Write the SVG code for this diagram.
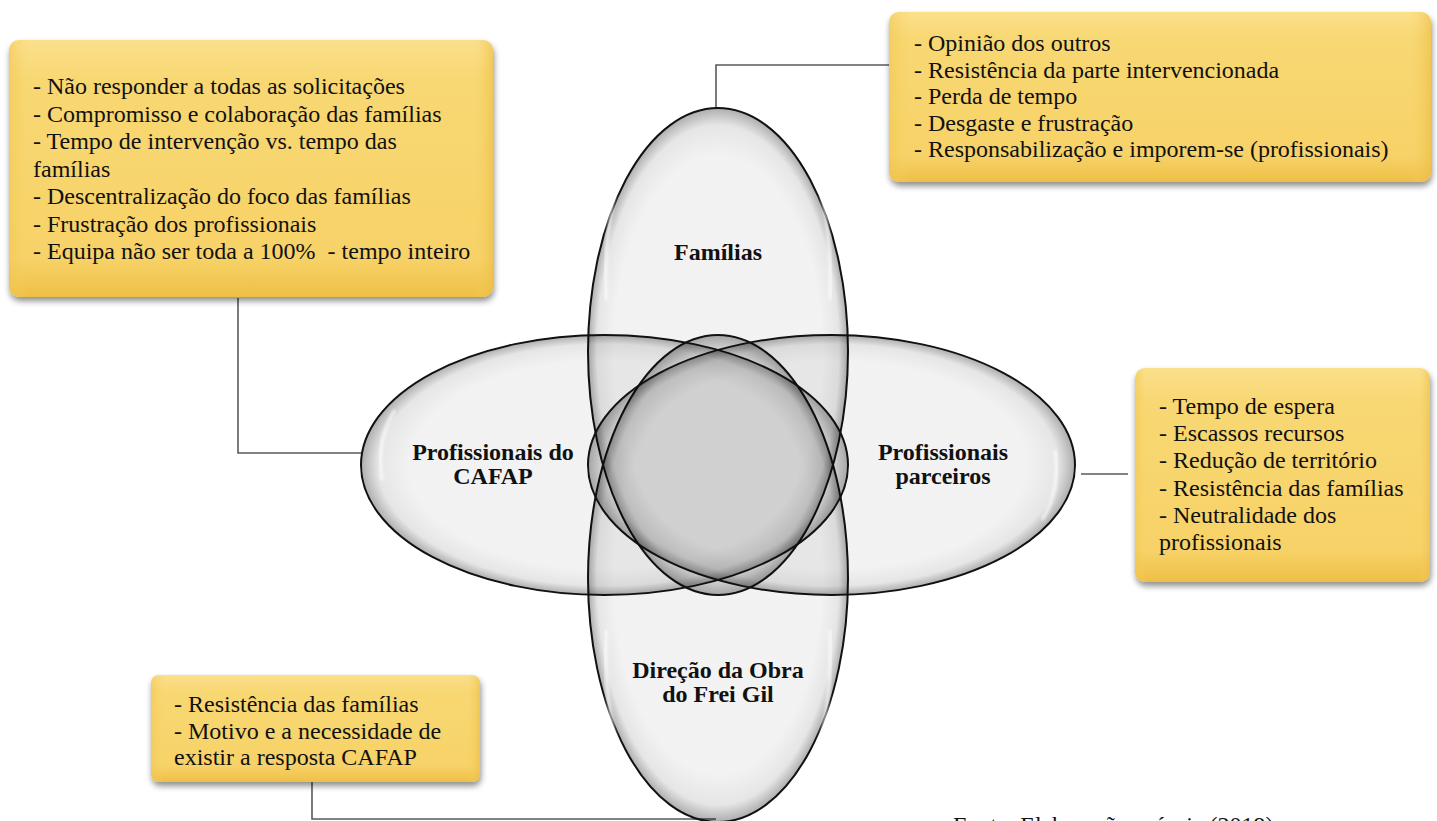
<svg xmlns="http://www.w3.org/2000/svg" width="1437" height="821" viewBox="0 0 1437 821">
<defs>
<radialGradient id="glass" cx="0.5" cy="0.5" r="0.5">
<stop offset="0" stop-color="#000" stop-opacity="0.05"/>
<stop offset="0.8" stop-color="#000" stop-opacity="0.05"/>
<stop offset="0.93" stop-color="#000" stop-opacity="0.1"/>
<stop offset="1" stop-color="#000" stop-opacity="0.32"/>
</radialGradient>
<linearGradient id="gold" x1="0" y1="0" x2="0" y2="1">
<stop offset="0" stop-color="#fbe08c"/>
<stop offset="0.15" stop-color="#f8d873"/>
<stop offset="0.85" stop-color="#f7d268"/>
<stop offset="1" stop-color="#eebf45"/>
</linearGradient>
<linearGradient id="goldside" x1="0" y1="0" x2="1" y2="0">
<stop offset="0" stop-color="#f0c650" stop-opacity="0.6"/>
<stop offset="0.04" stop-color="#f7d46a" stop-opacity="0"/>
<stop offset="0.96" stop-color="#f7d46a" stop-opacity="0"/>
<stop offset="1" stop-color="#e9bb42" stop-opacity="0.6"/>
</linearGradient>
<filter id="shadow" x="-10%" y="-10%" width="120%" height="130%">
<feGaussianBlur in="SourceAlpha" stdDeviation="3"/>
<feOffset dx="1" dy="4" result="b"/>
<feComponentTransfer><feFuncA type="linear" slope="0.45"/></feComponentTransfer>
<feMerge><feMergeNode/><feMergeNode in="SourceGraphic"/></feMerge>
</filter>
<filter id="soft" x="-5%" y="-5%" width="110%" height="110%">
<feGaussianBlur stdDeviation="1.5"/>
</filter>
<style>
.ell{fill:url(#glass);stroke:#111;stroke-width:2}
.hl{fill:none;stroke:#fff;stroke-opacity:0.75;stroke-width:3;filter:url(#soft)}
.box{fill:url(#gold);filter:url(#shadow)}
.boxs{fill:url(#goldside)}
.t{font-family:'Liberation Serif','Times New Roman',serif;font-size:24px;font-weight:normal;fill:#111}
.lb{font-family:'Liberation Serif','Times New Roman',serif;font-size:24px;font-weight:bold;fill:#111;text-anchor:middle}
.con{fill:none;stroke:#5a5a5a;stroke-width:1.6}
</style>
</defs>
<rect width="1437" height="821" fill="#fff"/>

<g id="connectors">
<polyline class="con" points="238,298 238,453 362,453"/>
<polyline class="con" points="716,108 716,65 889,65"/>
<polyline class="con" points="1081,474 1128,474"/>
<polyline class="con" points="312,782 312,819 716,819"/>
</g>

<g id="venn">
<g id="n-familias">
<ellipse class="ell" cx="718" cy="351.5" rx="130" ry="243.5"/>
<path class="hl" d="M606,300 C604,250 610,200 625,160"/>
<path class="hl" d="M830,300 C832,250 826,200 811,160"/>
<text class="lb" x="718" y="260">Famílias</text>
</g>
<g id="n-direcao">
<ellipse class="ell" cx="718" cy="578.5" rx="130" ry="243.5"/>
<path class="hl" d="M606,630 C604,680 610,730 625,770"/>
<path class="hl" d="M830,630 C832,680 826,730 811,770"/>
</g>
<g id="n-cafap">
<ellipse class="ell" cx="604.5" cy="465" rx="243.5" ry="130"/>
<path class="hl" d="M395,410 C382,430 378,455 382,480"/>
</g>
<g id="n-parceiros">
<ellipse class="ell" cx="831.5" cy="465" rx="243.5" ry="130"/>
<path class="hl" d="M1042,520 C1055,500 1059,475 1055,450"/>
</g>
<text class="lb" x="493" y="460">Profissionais do</text>
<text class="lb" x="493" y="484">CAFAP</text>
<text class="lb" x="943" y="460">Profissionais</text>
<text class="lb" x="943" y="484">parceiros</text>
<text class="lb" x="718" y="678">Direção da Obra</text>
<text class="lb" x="718" y="702">do Frei Gil</text>
</g>

<g id="box-cafap">
<rect class="box" x="9" y="40" width="484" height="257" rx="10"/>
<rect class="boxs" x="9" y="40" width="484" height="257" rx="10"/>
<text class="t" x="33" y="94">- Não responder a todas as solicitações</text>
<text class="t" x="33" y="121.5">- Compromisso e colaboração das famílias</text>
<text class="t" x="33" y="149">- Tempo de intervenção vs. tempo das</text>
<text class="t" x="33" y="176.5">famílias</text>
<text class="t" x="33" y="204">- Descentralização do foco das famílias</text>
<text class="t" x="33" y="231.5">- Frustração dos profissionais</text>
<text class="t" x="33" y="259" xml:space="preserve">- Equipa não ser toda a 100%  - tempo inteiro</text>
</g>

<g id="box-familias">
<rect class="box" x="889" y="12" width="542" height="170" rx="10"/>
<rect class="boxs" x="889" y="12" width="542" height="170" rx="10"/>
<text class="t" x="914" y="51">- Opinião dos outros</text>
<text class="t" x="914" y="77.5">- Resistência da parte intervencionada</text>
<text class="t" x="914" y="104">- Perda de tempo</text>
<text class="t" x="914" y="130.5">- Desgaste e frustração</text>
<text class="t" x="914" y="157">- Responsabilização e imporem-se (profissionais)</text>
</g>

<g id="box-parceiros">
<rect class="box" x="1135" y="368" width="295" height="214" rx="10"/>
<rect class="boxs" x="1135" y="368" width="295" height="214" rx="10"/>
<text class="t" x="1159" y="414">- Tempo de espera</text>
<text class="t" x="1159" y="441.2">- Escassos recursos</text>
<text class="t" x="1159" y="468.4">- Redução de território</text>
<text class="t" x="1159" y="495.6">- Resistência das famílias</text>
<text class="t" x="1159" y="522.8">- Neutralidade dos</text>
<text class="t" x="1159" y="550">profissionais</text>
</g>

<g id="box-direcao">
<rect class="box" x="151" y="675" width="329" height="107" rx="8"/>
<rect class="boxs" x="151" y="675" width="329" height="107" rx="8"/>
<text class="t" x="174" y="712">- Resistência das famílias</text>
<text class="t" x="174" y="738.5">- Motivo e a necessidade de</text>
<text class="t" x="174" y="765">existir a resposta CAFAP</text>
</g>

<text class="t" x="953" y="833">Fonte: Elaboração própria (2019)</text>
</svg>
